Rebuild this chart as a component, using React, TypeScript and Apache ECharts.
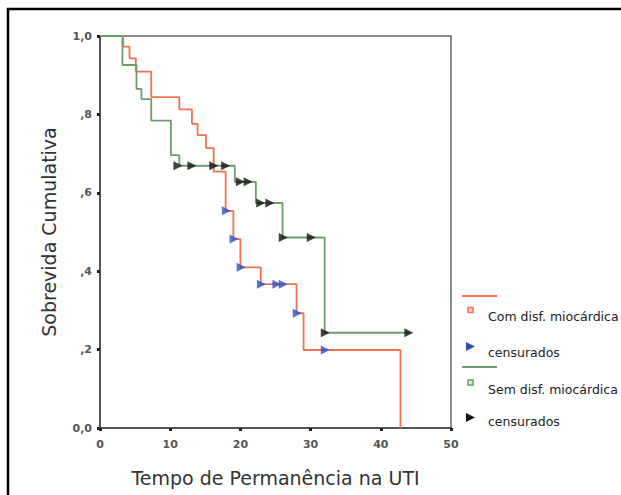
import React, { useEffect, useRef } from "react";
import * as echarts from "echarts";

const Y_TICK_LABELS = ["0,0", ",2", ",4", ",6", ",8", "1,0"];
const X_TICK_LABELS = ["0", "10", "20", "30", "40", "50"];

// [time, cumulative survival] at each drop (step 'end')
const comSteps: [number, number][] = [
  [0, 1], [3.3, 0.973], [4.2, 0.943], [5.1, 0.909], [7.3, 0.844], [11.3, 0.813],
  [13.1, 0.776], [13.9, 0.747], [15.1, 0.714], [16.2, 0.654], [17.9, 0.554],
  [19.0, 0.482], [20.0, 0.41], [22.9, 0.367], [28.0, 0.293], [29.0, 0.199], [42.8, 0],
];
const comCensored: [number, number][] = [
  [18.0, 0.554], [19.1, 0.482], [20.1, 0.41], [23.0, 0.367], [25.2, 0.367],
  [26.1, 0.367], [28.1, 0.293], [32.1, 0.199],
];
const semSteps: [number, number][] = [
  [0, 1], [3.2, 0.926], [5.2, 0.865], [5.9, 0.839], [7.3, 0.784], [10.1, 0.696],
  [11.3, 0.669], [19.2, 0.628], [22.2, 0.574], [26.0, 0.486], [32.0, 0.243], [44.0, 0.243],
];
const semCensored: [number, number][] = [
  [11.1, 0.669], [13.1, 0.669], [16.2, 0.669], [17.9, 0.669], [20.0, 0.628],
  [21.1, 0.628], [22.9, 0.574], [24.2, 0.574], [26.1, 0.486], [30.1, 0.486],
  [32.1, 0.243], [44.0, 0.243],
];

const RED = "#f2714f";
const GREEN = "#6b9e6b";
const BLUE = "#2f4fbf";
const BLACK = "#111111";

export default function App() {
  const ref = useRef<HTMLDivElement>(null);
  useEffect(() => {
    document.body.style.margin = "0";
    const chart = echarts.init(ref.current!, undefined, { renderer: "svg" });
    const font = "DejaVu Sans, Verdana, sans-serif";
    const legendText = (y: number, text: string) => ({
      type: "text", left: 488, top: y - 7.5,
      style: { text, fill: "#222", font: `12.5px ${font}` },
    });
    chart.setOption({
      animation: false,
      backgroundColor: "#fff",
      grid: { left: 100, top: 36, width: 351, height: 392, show: true, borderColor: "#666", borderWidth: 1.5 },
      xAxis: {
        type: "value", min: 0, max: 50, interval: 10,
        name: "Tempo de Permanência na UTI", nameLocation: "middle", nameGap: 40,
        nameTextStyle: { fontSize: 19, color: "#333", fontFamily: font },
        axisLine: { lineStyle: { color: "#555", width: 2 } },
        axisTick: { show: true, length: 3, lineStyle: { color: "#222", width: 3 } },
        axisLabel: { margin: 11, fontSize: 11, color: "#555", fontWeight: "bold", fontFamily: font,
          formatter: (v: number) => X_TICK_LABELS[Math.round(v / 10)] ?? "" },
        splitLine: { show: false },
      },
      yAxis: {
        type: "value", min: 0, max: 1, interval: 0.2,
        name: "Sobrevida Cumulativa", nameLocation: "middle", nameGap: 42, nameRotate: 90,
        nameTextStyle: { fontSize: 19, color: "#333", fontFamily: font },
        axisLine: { show: true, lineStyle: { color: "#555", width: 2 } },
        axisTick: { show: true, length: 3, lineStyle: { color: "#222", width: 3 } },
        axisLabel: { margin: 8, fontSize: 11, color: "#555", fontWeight: "bold", fontFamily: font,
          formatter: (v: number) => Y_TICK_LABELS[Math.round(v / 0.2)] ?? "" },
        splitLine: { show: false },
      },
      series: [
        { name: "Com disf. miocárdica", type: "line", step: "end", data: comSteps, showSymbol: false,
          symbol: "none", lineStyle: { color: RED, width: 1.8 }, z: 2 },
        { name: "Sem disf. miocárdica", type: "line", step: "end", data: semSteps, showSymbol: false,
          symbol: "none", lineStyle: { color: GREEN, width: 1.8 }, z: 3 },
        { name: "censurados", type: "scatter", data: comCensored, symbol: "triangle", symbolRotate: -90,
          symbolSize: [9, 9], itemStyle: { color: BLUE }, z: 4 },
        { name: "censurados ", type: "scatter", data: semCensored, symbol: "triangle", symbolRotate: -90,
          symbolSize: [9, 9], itemStyle: { color: BLACK }, z: 5 },
      ],
      graphic: [
        { type: "rect", shape: { x: 8, y: 9, width: 700, height: 600 }, style: { fill: "none", stroke: "#000", lineWidth: 2.5 }, silent: true },
        { type: "line", shape: { x1: 462, y1: 296, x2: 497, y2: 296 }, style: { stroke: RED, lineWidth: 1.8 } },
        { type: "rect", shape: { x: 468, y: 307.5, width: 5, height: 5 }, style: { fill: "#fbd0c4", stroke: RED, lineWidth: 1.5 } },
        legendText(317, "Com disf. miocárdica"),
        { type: "polygon", shape: { points: [[466, 342], [475, 346.5], [466, 351]] }, style: { fill: BLUE } },
        legendText(353, "censurados"),
        { type: "line", shape: { x1: 462, y1: 367, x2: 497, y2: 367 }, style: { stroke: GREEN, lineWidth: 1.8 } },
        { type: "rect", shape: { x: 468, y: 380, width: 5, height: 5 }, style: { fill: "#d5e8d5", stroke: GREEN, lineWidth: 1.5 } },
        legendText(390, "Sem disf. miocárdica"),
        { type: "polygon", shape: { points: [[466, 413], [475, 417.5], [466, 422]] }, style: { fill: BLACK } },
        legendText(422, "censurados"),
      ],
    });
    return () => chart.dispose();
  }, []);
  return <div ref={ref} style={{ width: 621, height: 495 }} />;
}
